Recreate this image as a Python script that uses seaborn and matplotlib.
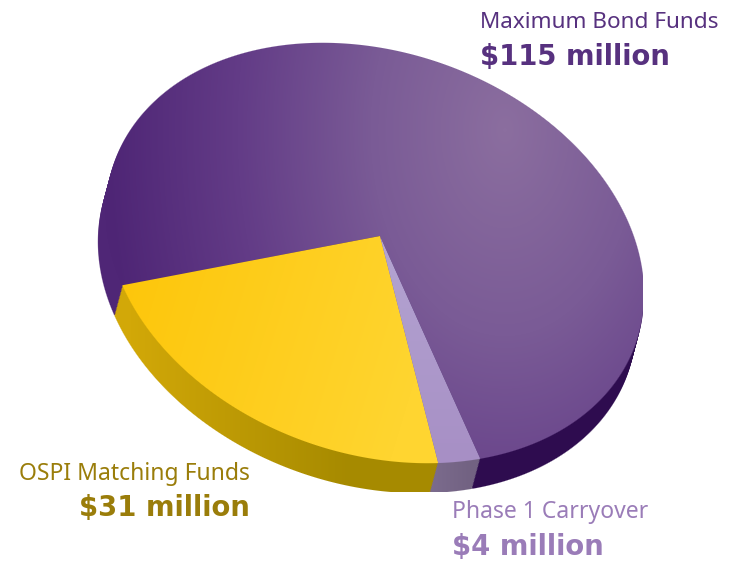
import numpy as np
import matplotlib
matplotlib.use('Agg')
import matplotlib.pyplot as plt
import seaborn as sns
from matplotlib.transforms import Affine2D

# data
fund_names = ['Maximum Bond Funds', 'OSPI Matching Funds', 'Phase 1 Carryover']
fund_amounts = [115, 31, 4]
fund_labels = ['$115 million', '$31 million', '$4 million']

sns.set_theme(style='white')

W, H = 745, 565
fig = plt.figure(figsize=(W / 100, H / 100), dpi=100)
ax = fig.add_axes([0, 0, 1, 1])

# view of the tilted disc, in picture pixels
apex = (380, 236)
tilt = np.array([[100, 248.7, apex[0]],
                 [222, -22.2, apex[1]],
                 [0, 0, 1]])
disc = dict(cx=375, cy=253, a=276, b=201, angle=19)
depth = (-8, 30)

wedges, _ = ax.pie(fund_amounts, radius=3, startangle=0, wedgeprops={'linewidth': 0},
                   colors=['#5a3080', '#ffcf1a', '#a890c6'])

xx, yy = np.meshgrid(np.arange(W) + 0.5, np.arange(H) + 0.5)


def disc_alpha(dx=0, dy=0):
    t = np.deg2rad(disc['angle'])
    x = xx - disc['cx'] - dx
    y = yy - disc['cy'] - dy
    u = x * np.cos(t) + y * np.sin(t)
    v = -x * np.sin(t) + y * np.cos(t)
    r = np.sqrt((u / disc['a']) ** 2 + (v / disc['b']) ** 2)
    alpha = np.clip((1 - r) * disc['b'] + 0.5, 0, 1)
    alpha[:, 643:] = 0
    return alpha


# colour fields
glow = np.sqrt(((xx - 505) * 1.15) ** 2 + ((yy - 130) * 0.75) ** 2) / 460
purple_top = sns.blend_palette(['#8b6e9f', '#7a5b96', '#633c87', '#4e2575'], as_cmap=True)(np.clip(glow, 0, 1))
yellow_top = sns.blend_palette(['#fdc60a', '#ffd530'], as_cmap=True)(np.clip((xx + yy * 0.3 - 200) / 330, 0, 1))
lilac_top = sns.blend_palette(['#b4a5d2', '#a78fc5'], as_cmap=True)(np.clip((yy - 240) / 220, 0, 1))
purple_side = sns.blend_palette(['#4f2676', '#2e0c4f'], as_cmap=True)(np.clip((xx - 250) / 180, 0, 1))
yellow_side = sns.blend_palette(['#d2a808', '#a68a00'], as_cmap=True)(np.clip((xx - 130) / 220, 0, 1))
lilac_side = sns.blend_palette(['#7c6c8e', '#726282'], as_cmap=True)(np.clip((xx - 430) / 40, 0, 1))


def layer(field, wedge, alpha, dx, dy, z):
    rgba = field.copy()
    rgba[..., 3] = alpha
    im = ax.imshow(rgba, extent=(0, W, H, 0), aspect='auto', interpolation='nearest', zorder=z)
    m = Affine2D(tilt) + Affine2D().translate(dx, dy) + ax.transData
    im.set_clip_path(wedge.get_path(), m)


# side wall, swept from the bottom rim up to the top face
n_steps = 22
z = 2
for i in range(n_steps, 0, -1):
    dx, dy = depth[0] * i / n_steps, depth[1] * i / n_steps
    alpha = disc_alpha(dx, dy)
    alpha[492:, :] = 0
    for wedge, field in zip(wedges, [purple_side, yellow_side, lilac_side]):
        layer(field, wedge, alpha, dx, dy, z)
        z += 1

# top face
top_alpha = disc_alpha()
for wedge, field in zip(wedges, [purple_top, yellow_top, lilac_top]):
    layer(field, wedge, top_alpha, 0, 0, z)
    z += 1

# the pie wedges only give the outlines for the shaded layers
for wedge in wedges:
    wedge.set_visible(False)

ax.set_aspect('auto')
ax.set_xlim(0, W)
ax.set_ylim(H, 0)
ax.axis('off')

# labels
name_font = ['Noto Sans', 'DejaVu Sans']
ax.text(480, 23, fund_names[0], color='#57317f', fontsize=16.2, family=name_font, va='center', zorder=500)
ax.text(480, 57, fund_labels[0], color='#57317f', fontsize=19.8, weight='bold', family='DejaVu Sans', va='center', zorder=500)
ax.text(250, 474, fund_names[1], color='#9a7d0a', fontsize=16.5, family=name_font, va='center', ha='right', zorder=500)
ax.text(250, 508, fund_labels[1], color='#9a7d0a', fontsize=19.8, weight='bold', family='DejaVu Sans', va='center', ha='right', zorder=500)
ax.text(452, 512, fund_names[2], color='#9a7cb8', fontsize=16.5, family=name_font, va='center', zorder=500)
ax.text(452, 547, fund_labels[2], color='#9a7cb8', fontsize=19.8, weight='bold', family='DejaVu Sans', va='center', zorder=500)

fig.savefig('out.png', dpi=100, facecolor='white')
